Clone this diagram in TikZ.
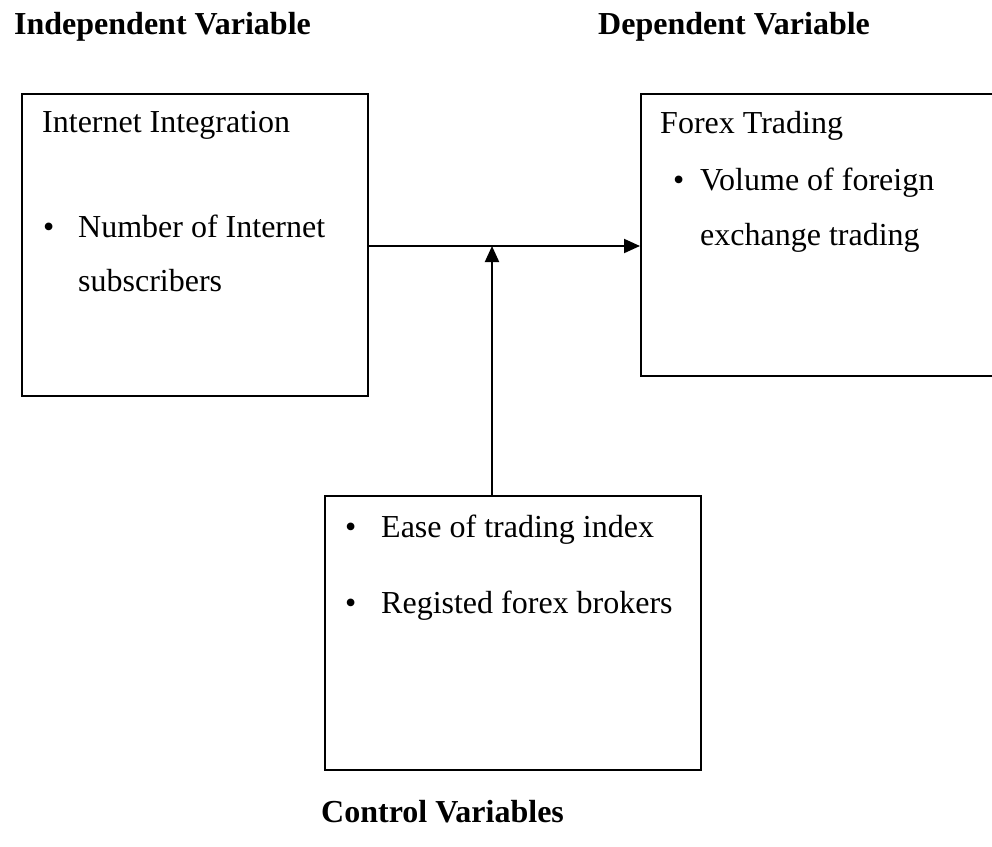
\documentclass[tikz,border=0pt]{standalone}
\usepackage{fontspec}
\setmainfont{Liberation Serif}
\usetikzlibrary{arrows.meta}
\begin{document}
\begin{tikzpicture}[x=1pt,y=1pt,
  box/.style={draw=black, line width=1.9pt, rectangle, inner sep=0pt, anchor=north west},
  txt/.style={inner sep=0pt, anchor=base west, font=\fontsize{32}{38}\selectfont},
  head/.style={inner sep=0pt, anchor=base west, font=\fontsize{32}{38}\selectfont\bfseries},
  arr/.style={line width=2pt, -{Triangle[length=16pt,width=14pt]}}]
\useasboundingbox (0,0) rectangle (992,-846);
\clip (0,0) rectangle (992,-846);
% headings
\node[head] (hiv) at (14,-34) {Independent Variable};
\node[head] (hdv) at (598,-34) {Dependent Variable};
\node[head] (hcv) at (321,-822) {Control Variables};
% boxes
\node[box, minimum width=346pt, minimum height=302pt] (iv) at (21,-93) {};
\node[box, minimum width=380pt, minimum height=282pt] (dv) at (640,-93) {};
\node[box, minimum width=376pt, minimum height=274pt] (cv) at (324,-495) {};
% left box text
\node[txt] (t1) at (42,-132) {Internet Integration};
\node[txt] (b1) at (43,-237) {•};
\node[txt] (t2) at (78,-237) {Number of Internet};
\node[txt] (t3) at (78,-291) {subscribers};
% right box text
\node[txt] (t4) at (660,-133) {Forex Trading};
\node[txt] (b2) at (673,-190) {•};
\node[txt] (t5) at (700,-190) {Volume of foreign};
\node[txt] (t6) at (700,-245) {exchange trading};
% bottom box text
\node[txt] (b3) at (345,-537) {•};
\node[txt] (t7) at (381,-537) {Ease of trading index};
\node[txt] (b4) at (345,-613) {•};
\node[txt] (t8) at (381,-613) {Registed forex brokers};
% connectors
\coordinate (m) at (492,-246);
\draw[arr] (iv.east |- m) -- (dv.west |- m);
\draw[arr] (m |- cv.north) -- (m);
\end{tikzpicture}
\end{document}
